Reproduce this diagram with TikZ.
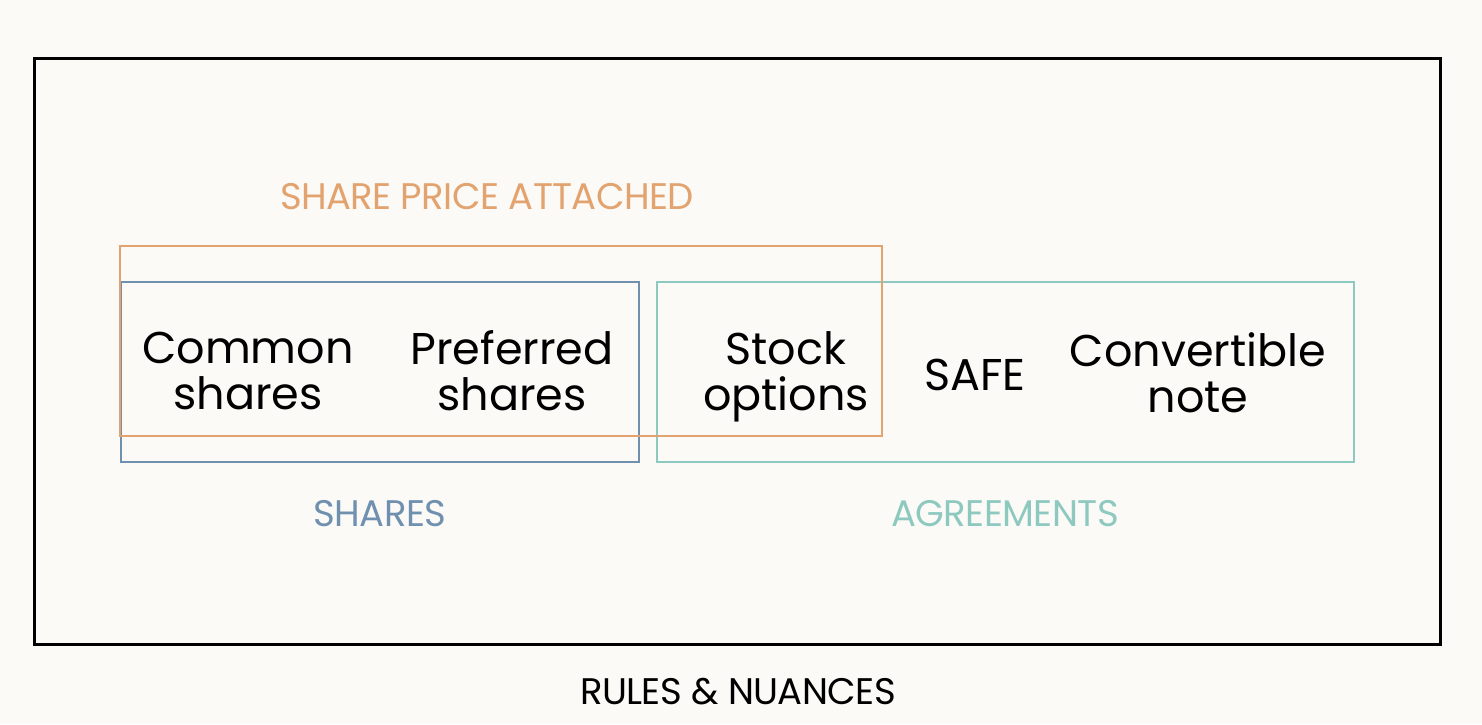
\documentclass[tikz,border=0pt]{standalone}
\usepackage{fontspec}
\setmainfont{Poppins}
\newfontfamily\labelfont[LetterSpace=-1.5]{Poppins}
\definecolor{bgc}{HTML}{FBFAF7}
\definecolor{orangec}{HTML}{E2A36F}
\definecolor{bluec}{HTML}{7090B0}
\definecolor{tealc}{HTML}{8EC9BF}
\tikzset{
  frame/.style={draw=black, line width=3.2pt, inner sep=0, fill=none},
  grp/.style={line width=2.8pt, inner sep=0, fill=none},
  item/.style={align=center, inner sep=0, font=\fontsize{44.5}{46}\selectfont},
  lab/.style={inner sep=0, font=\labelfont\fontsize{37}{40}\selectfont},
}
\begin{document}
\begin{tikzpicture}[x=1pt,y=-1pt]
\fill[bgc] (0,0) rectangle (1482,724);
\useasboundingbox (0,0) rectangle (1482,724);
% outer frame
\node[frame, minimum width=1406pt, minimum height=586pt] (outer) at (737.5,351.5) {};
% groups
\node[grp, draw=bluec, minimum width=518pt, minimum height=180pt] (shares) at (380,372) {};
\node[grp, draw=tealc, minimum width=697pt, minimum height=180pt] (agree) at (1005.5,372) {};
\node[grp, draw=orangec, minimum width=762pt, minimum height=190pt] (price) at (501,341) {};
% items
\node[item] (common) at (248,371) {Common\\shares};
\node[item] (pref) at (512,371) {Preferred\\shares};
\node[item] (stock) at (786,377) {Stock\\options};
\node[item] (safe) at (975,375) {SAFE};
\node[item] (conv) at (1198,373) {Convertible\\note};
% labels
\node[lab, text=orangec] (lprice) at (487,197) {SHARE PRICE ATTACHED};
\node[lab, text=bluec] (lshares) at (380,514) {SHARES};
\node[lab, text=tealc] (lagree) at (1005,514) {AGREEMENTS};
\node[lab, text=black] (lrules) at (738,692) {RULES \& NUANCES};
\end{tikzpicture}
\end{document}
